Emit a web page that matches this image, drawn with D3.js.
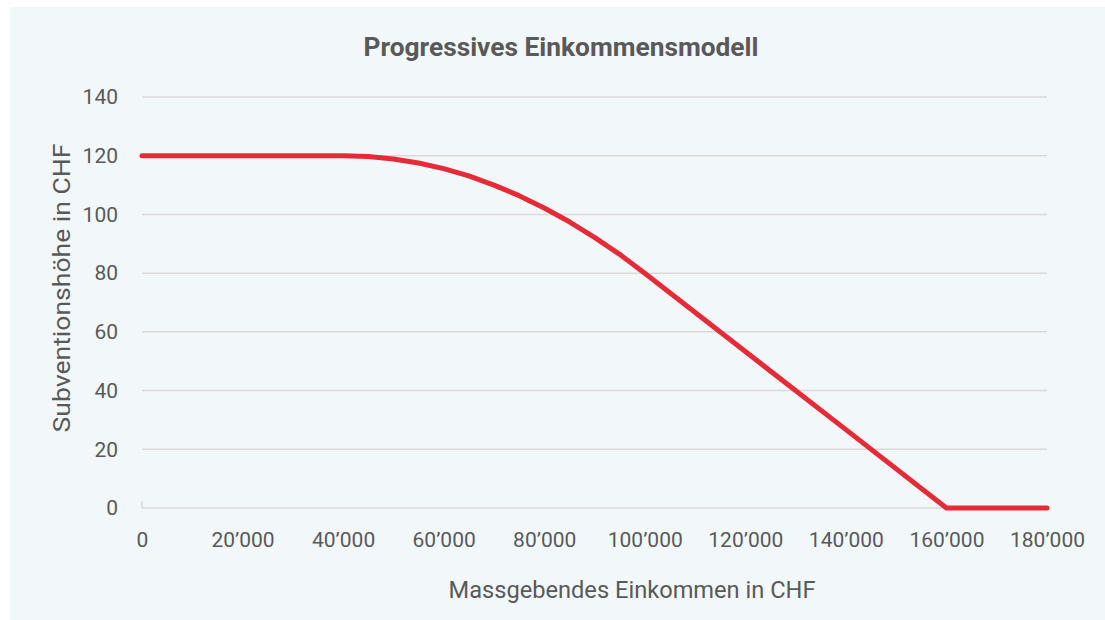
<!DOCTYPE html>
<html>
<head>
<meta charset="utf-8">
<script src="https://cdn.jsdelivr.net/npm/d3@7"></script>
<style>
  body { margin: 0; background: #ffffff; }
  svg { display: block; }
  text { font-family: Roboto, "Liberation Sans", sans-serif; fill: #595959; }
</style>
</head>
<body>
<svg id="chart" width="1105" height="620"></svg>
<script>
// Einkommen (CHF) and Subvention (CHF)
const incomes = [0, 10000, 20000, 30000, 40000, 45000, 50000, 55000, 60000, 65000, 70000,
  75000, 80000, 85000, 90000, 95000, 100000, 120000, 140000, 160000, 170000, 180000]
const subsidies = [120, 120, 120, 120, 120, 119.7, 118.9, 117.5, 115.6, 113.1, 110,
  106.4, 102.2, 97.5, 92.2, 86.4, 80, 53.3, 26.7, 0, 0, 0]
const xTicks = [0, 20000, 40000, 60000, 80000, 100000, 120000, 140000, 160000, 180000]
const yTicks = [0, 20, 40, 60, 80, 100, 120, 140]

const titleText = 'Progressives Einkommensmodell'
const xTitle = 'Massgebendes Einkommen in CHF'
const yTitle = 'Subventionshöhe in CHF'

const svg = d3.select('#chart')

// panel background
svg.append('rect')
  .attr('x', 10).attr('y', 7)
  .attr('width', 1095).attr('height', 613)
  .attr('fill', '#f2f7fa')

const x = d3.scaleLinear().domain([0, 180000]).range([142, 1047])
const y = d3.scaleLinear().domain([0, 140]).range([508, 97])

const fmt = (v) => d3.format(',')(v).replace(/,/g, '’')

// gridlines
svg.append('g')
  .selectAll('line')
  .data(yTicks)
  .enter()
  .append('line')
  .attr('x1', x(0)).attr('x2', x(180000))
  .attr('y1', (d) => y(d)).attr('y2', (d) => y(d))
  .attr('stroke', '#d9d9d9')
  .attr('stroke-width', 1.5)

// small tick at the origin
svg.append('line')
  .attr('x1', x(0)).attr('x2', x(0))
  .attr('y1', y(0) - 7).attr('y2', y(0))
  .attr('stroke', '#d9d9d9')
  .attr('stroke-width', 1.5)

// y axis labels
const yAxis = d3.axisLeft(y).tickValues(yTicks).tickSize(0).tickPadding(24)
svg.append('g')
  .attr('transform', `translate(${x(0)},0)`)
  .call(yAxis)
  .call((g) => g.select('.domain').remove())
  .selectAll('text')
  .attr('font-size', 21)
  .attr('fill', '#595959')
  .style('font-family', 'Roboto, sans-serif')

// x axis labels
const xAxis = d3.axisBottom(x).tickValues(xTicks).tickFormat(fmt).tickSize(0).tickPadding(24)
svg.append('g')
  .attr('transform', `translate(0,${y(0)})`)
  .call(xAxis)
  .call((g) => g.select('.domain').remove())
  .selectAll('text')
  .attr('font-size', 21)
  .attr('fill', '#595959')
  .style('font-family', 'Roboto, sans-serif')

// the line
const line = d3.line()
  .x((d, i) => x(incomes[i]))
  .y((d) => y(d))
svg.append('path')
  .datum(subsidies)
  .attr('d', line)
  .attr('fill', 'none')
  .attr('stroke', '#e52b38')
  .attr('stroke-width', 5)
  .attr('stroke-linejoin', 'round')
  .attr('stroke-linecap', 'round')

// titles
svg.append('text')
  .attr('x', 561)
  .attr('y', 56)
  .attr('text-anchor', 'middle')
  .attr('font-size', 26)
  .attr('font-weight', 'bold')
  .attr('textLength', 395)
  .attr('lengthAdjust', 'spacingAndGlyphs')
  .text(titleText)

svg.append('text')
  .attr('x', 632)
  .attr('y', 598)
  .attr('text-anchor', 'middle')
  .attr('font-size', 24)
  .attr('textLength', 367)
  .attr('lengthAdjust', 'spacingAndGlyphs')
  .text(xTitle)

svg.append('text')
  .attr('transform', 'translate(70,288) rotate(-90)')
  .attr('text-anchor', 'middle')
  .attr('font-size', 24)
  .attr('textLength', 289)
  .attr('lengthAdjust', 'spacingAndGlyphs')
  .text(yTitle)
</script>
</body>
</html>
